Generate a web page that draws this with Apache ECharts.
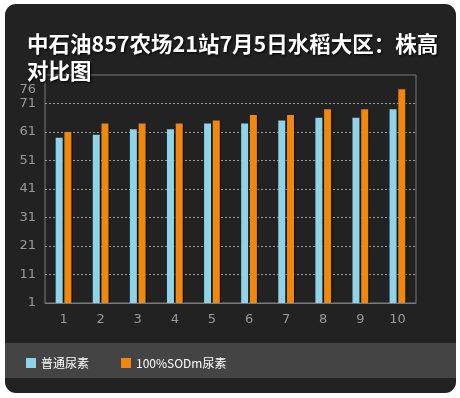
<!DOCTYPE html>
<html>
<head>
<meta charset="utf-8">
<script src="https://cdn.jsdelivr.net/npm/echarts@6/dist/echarts.min.js"></script>
<style>
  html, body { margin: 0; padding: 0; background: #fff; }
  #panel {
    position: absolute; left: 5px; top: 4px; width: 451px; height: 389px;
    background: #222; border-radius: 11px;
  }
  #chart { position: absolute; left: 0; top: 0; width: 460px; height: 398px; }
</style>
</head>
<body>
<div id="panel"></div>
<div id="chart"></div>
<script>
// plants numbered 1..10
var categories = ['1', '2', '3', '4', '5', '6', '7', '8', '9', '10']
var seriesNames = ['普通尿素', '100%SODm尿素']
var normalUrea = [59, 60, 62, 62, 64, 64, 65, 66, 66, 69]
var sodmUrea = [61, 64, 64, 64, 65, 67, 67, 69, 69, 76]
var yLabelValues = [1, 11, 21, 31, 41, 51, 61, 71, 76]
var yTickValues = [1, 11, 21, 31, 41, 51, 61, 71]

var chartObj = echarts.init(document.getElementById('chart'))

const barTmpl = {
  type: 'bar',
  barWidth: 7,
  barGap: '25%',
  itemStyle: {
    shadowColor: 'rgba(0,0,0,0.6)',
    shadowOffsetX: 1,
    shadowBlur: 0
  }
}

var opt = {
  backgroundColor: 'transparent',
  animation: false,
  color: ['#8ed3ea', '#f0870f'],
  title: {
    text: '中石油857农场21站7月5日水稻大区：株高对比图',
    left: 22,
    top: 25,
    textStyle: {
      color: '#fff',
      fontSize: 21.5,
      fontWeight: 'bold',
      fontFamily: 'Noto Sans CJK SC',
      width: 420,
      overflow: 'break',
      lineHeight: 27,
      textShadowColor: '#000',
      textShadowBlur: 2,
      textShadowOffsetX: 1,
      textShadowOffsetY: 1
    }
  },
  graphic: [
    {
      type: 'rect',
      z: -1,
      shape: { x: 5, y: 343, width: 451, height: 35 },
      style: { fill: '#444' }
    }
  ],
  legend: {
    left: 21,
    top: 352,
    itemWidth: 10,
    itemHeight: 10,
    itemGap: 32,
    icon: 'rect',
    textStyle: { color: '#fff', fontSize: 12, fontFamily: 'Noto Sans CJK SC' },
    data: seriesNames
  },
  grid: {
    left: 45,
    right: 44,
    top: 75,
    bottom: 95,
    show: true,
    borderColor: '#7a7a7a',
    borderWidth: 1
  },
  xAxis: {
    type: 'category',
    data: categories,
    axisLine: { lineStyle: { color: '#7a7a7a' } },
    axisTick: { show: false },
    axisLabel: { color: '#999', fontSize: 13, margin: 10, fontFamily: 'DejaVu Sans' },
    splitLine: { show: false }
  },
  yAxis: {
    type: 'value',
    min: 1,
    max: 81,
    axisLine: { show: false },
    axisTick: { show: false, customValues: yTickValues },
    axisLabel: {
      color: '#999',
      fontSize: 13,
      margin: 9,
      fontFamily: 'DejaVu Sans',
      customValues: yLabelValues
    },
    splitLine: { lineStyle: { color: '#999', type: [2, 2], width: 1 } }
  },
  series: []
}

var allData = [normalUrea, sodmUrea]
for (var i = 0; i < allData.length; i++) {
  var tmp = JSON.parse(JSON.stringify(barTmpl))
  tmp.name = seriesNames[i]
  tmp.data = allData[i]
  opt.series.push(tmp)
}

chartObj.setOption(opt)
</script>
</body>
</html>
